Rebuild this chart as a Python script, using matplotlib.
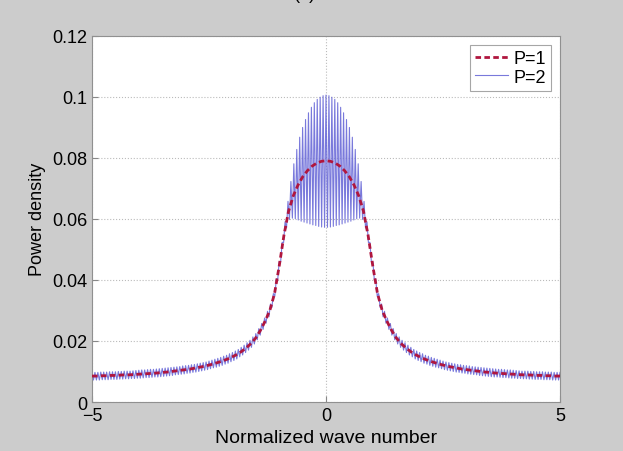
import numpy as np
import matplotlib
matplotlib.use("Agg")
import matplotlib.pyplot as plt

plt.rcParams['font.family'] = ['Liberation Sans', 'DejaVu Sans']

# P=1 curve, read at k = 0, 0.1, ..., 5 (curve is symmetric in k)
k1_half = np.round(np.arange(0, 5.0001, 0.1), 4)
p1_half = [0.0790, 0.0788, 0.0782, 0.0772, 0.0757, 0.0737, 0.0710, 0.0675, 0.0625, 0.0545,
           0.0445, 0.0355, 0.0300, 0.0265, 0.0235, 0.0210, 0.0192, 0.0178, 0.0166, 0.0156,
           0.0148, 0.0141, 0.0135, 0.0130, 0.0125, 0.0121, 0.0117, 0.0114, 0.0111, 0.0108,
           0.0106, 0.0104, 0.0102, 0.0100, 0.0098, 0.0097, 0.0095, 0.0094, 0.0093, 0.0092,
           0.0091, 0.0090, 0.0089, 0.0089, 0.0088, 0.0087, 0.0087, 0.0086, 0.0086, 0.0085,
           0.0085]

# P=2 curve oscillates: peaks at k = 0, 1/16, ..., 5 and dips half way between
k2_step = 0.0625
p2_upper_half = [0.1005, 0.1003, 0.0998, 0.0991, 0.0980, 0.0965, 0.0947, 0.0925, 0.0899, 0.0867,
                 0.0827, 0.0780, 0.0722, 0.0657, 0.0590, 0.0523, 0.0460, 0.0403, 0.0355, 0.0321,
                 0.0297, 0.0275, 0.0257, 0.0240, 0.0224, 0.0213, 0.0202, 0.0194, 0.0186, 0.0179,
                 0.0172, 0.0167, 0.0162, 0.0158, 0.0153, 0.0150, 0.0146, 0.0143, 0.0140, 0.0137,
                 0.0134, 0.0131, 0.0129, 0.0127, 0.0125, 0.0123, 0.0122, 0.0120, 0.0119, 0.0118,
                 0.0116, 0.0115, 0.0114, 0.0113, 0.0112, 0.0111, 0.0110, 0.0109, 0.0108, 0.0107,
                 0.0107, 0.0106, 0.0105, 0.0105, 0.0104, 0.0103, 0.0102, 0.0101, 0.0101, 0.0101,
                 0.0100, 0.0100, 0.0099, 0.0099, 0.0099, 0.0098, 0.0098, 0.0098, 0.0097, 0.0097,
                 0.0097]
p2_lower_half = [0.0572, 0.0573, 0.0575, 0.0578, 0.0580, 0.0583, 0.0586, 0.0589, 0.0592, 0.0596,
                 0.0600, 0.0602, 0.0598, 0.0570, 0.0522, 0.0460, 0.0402, 0.0347, 0.0310, 0.0279,
                 0.0258, 0.0238, 0.0219, 0.0204, 0.0190, 0.0179, 0.0170, 0.0162, 0.0154, 0.0148,
                 0.0141, 0.0136, 0.0132, 0.0127, 0.0124, 0.0120, 0.0117, 0.0114, 0.0112, 0.0109,
                 0.0106, 0.0104, 0.0102, 0.0100, 0.0098, 0.0097, 0.0095, 0.0094, 0.0092, 0.0091,
                 0.0090, 0.0089, 0.0087, 0.0086, 0.0085, 0.0084, 0.0083, 0.0082, 0.0082, 0.0081,
                 0.0080, 0.0080, 0.0079, 0.0078, 0.0078, 0.0077, 0.0077, 0.0076, 0.0076, 0.0075,
                 0.0075, 0.0074, 0.0074, 0.0074, 0.0073, 0.0073, 0.0073, 0.0072, 0.0072, 0.0072]

xticks = [-5, 0, 5]
yticks = [0, 0.02, 0.04, 0.06, 0.08, 0.1, 0.12]
yticklabels = ['0', '0.02', '0.04', '0.06', '0.08', '0.1', '0.12']

# mirror the halves
k1 = np.concatenate([-k1_half[:0:-1], k1_half])
p1 = np.concatenate([p1_half[:0:-1], p1_half])

up_k_half = np.arange(len(p2_upper_half)) * k2_step
lo_k_half = (np.arange(len(p2_lower_half)) + 0.5) * k2_step
up_k = np.concatenate([-up_k_half[:0:-1], up_k_half])
up_v = np.concatenate([p2_upper_half[:0:-1], p2_upper_half])
lo_k = np.concatenate([-lo_k_half[::-1], lo_k_half])
lo_v = np.concatenate([p2_lower_half[::-1], p2_lower_half])

# interleave peaks and dips
k2 = np.empty(len(up_k) + len(lo_k))
p2 = np.empty(len(k2))
k2[0::2] = up_k
p2[0::2] = up_v
k2[1::2] = lo_k
p2[1::2] = lo_v

fig = plt.figure(figsize=(6.23, 4.52), dpi=100, facecolor='#cccccc')
ax = fig.add_axes([0.1477, 0.1084, 0.7512, 0.8108])

ax.plot(k2, p2, color='#6a6ad8', linewidth=0.8, alpha=0.9, label='P=2', zorder=2)
ax.plot(k1, p1, color='#b0163e', linewidth=2.0, linestyle=(0, (2.0, 1.2)), label='P=1', zorder=3)

ax.set_xlim(-5, 5)
ax.set_ylim(0, 0.12)
ax.set_xticks(xticks)
ax.set_yticks(yticks)
ax.set_yticklabels(yticklabels)
ax.tick_params(direction='in', length=4, labelsize=13, colors='#888888', labelcolor='black')
ax.grid(True, linestyle=':', color='#bbbbbb', linewidth=0.8)
for s in ax.spines.values():
    s.set_color('#909090')

ax.set_xlabel('Normalized wave number', fontsize=14, labelpad=4)
ax.set_ylabel('Power density', fontsize=13, labelpad=4)

handles, labels = ax.get_legend_handles_labels()
leg = ax.legend(handles[::-1], labels[::-1], loc='upper right', fontsize=13,
                frameon=True, fancybox=False, edgecolor='#909090', handlelength=1.8,
                borderaxespad=0.5, labelspacing=0.1, handletextpad=0.3, borderpad=0.3)
leg.get_frame().set_linewidth(0.8)

fig.text(0.49, 1.012, '(a)', ha='center', va='center', fontsize=13)

fig.savefig('out.png', dpi=100, facecolor=fig.get_facecolor())
